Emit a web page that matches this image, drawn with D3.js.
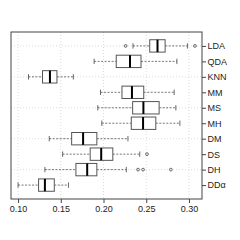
<!DOCTYPE html>
<html>
<head>
<meta charset="utf-8">
<script src="https://cdn.jsdelivr.net/npm/d3@7"></script>
<style>
  body { margin: 0; background: #fff; }
  text { font-family: "Liberation Sans", Arial, sans-serif; fill: #222; }
</style>
</head>
<body>
<div id="chart"></div>
<script>
// methods, bottom to top
var methods = ["DDα", "DH", "DS", "DM", "MH", "MS", "MM", "KNN", "QDA", "LDA"];
var whiskerLow  = [0.1000, 0.1314, 0.1522, 0.1365, 0.1980, 0.1933, 0.1965, 0.1122, 0.1890, 0.2345];
var q1          = [0.1240, 0.1677, 0.1844, 0.1627, 0.2325, 0.2341, 0.2216, 0.1286, 0.2149, 0.2541];
var medians     = [0.1314, 0.1809, 0.1973, 0.1761, 0.2463, 0.2467, 0.2333, 0.1373, 0.2310, 0.2632];
var q3          = [0.1424, 0.1922, 0.2109, 0.1922, 0.2612, 0.2651, 0.2471, 0.1455, 0.2439, 0.2721];
var whiskerHigh = [0.1590, 0.2267, 0.2424, 0.2286, 0.2894, 0.2847, 0.2827, 0.1647, 0.2859, 0.2982];
var outliers    = [[], [0.2404, 0.2463, 0.2788], [0.2509], [], [], [], [], [], [], [0.2259, 0.3070]];
var xTicks = [0.10, 0.15, 0.20, 0.25, 0.30];
var yGridRows = [2, 4, 6, 8, 10];

var width = 240, height = 240;
var plotL = 11, plotR = 202, plotT = 32, plotB = 199;

var svg = d3.select("#chart").append("svg")
    .attr("width", width)
    .attr("height", height);

var lo = d3.min(whiskerLow), hi = d3.max(outliers.flat().concat(whiskerHigh));
var pad = (hi - lo) * 0.04;
var x = d3.scaleLinear().domain([lo - pad, hi + pad]).range([plotL, plotR]);
var y = d3.scaleLinear().domain([0.1, methods.length + 0.9]).range([plotB, plotT]);
var rowH = Math.abs(y(1) - y(0));
var boxH = rowH * 0.8;
var stapleH = rowH * 0.35;

// grid
var grid = svg.append("g")
    .attr("stroke", "#d3d3d3")
    .attr("stroke-width", 0.8)
    .attr("stroke-dasharray", "1,2");
grid.selectAll(".gx").data(xTicks).join("line")
    .attr("x1", d => x(d)).attr("x2", d => x(d))
    .attr("y1", plotT).attr("y2", plotB);
grid.selectAll(".gy").data(yGridRows).join("line")
    .attr("x1", plotL).attr("x2", plotR)
    .attr("y1", d => y(d)).attr("y2", d => y(d));

var rows = methods.map((m, i) => ({
    name: m, pos: i + 1, lo: whiskerLow[i], q1: q1[i], med: medians[i],
    q3: q3[i], hi: whiskerHigh[i], out: outliers[i]
}));

var g = svg.append("g").selectAll("g").data(rows).join("g");

// whiskers
g.append("line")
    .attr("x1", d => x(d.lo)).attr("x2", d => x(d.q1))
    .attr("y1", d => y(d.pos)).attr("y2", d => y(d.pos))
    .attr("stroke", "#555").attr("stroke-dasharray", "2,1.5").attr("stroke-width", 0.8);
g.append("line")
    .attr("x1", d => x(d.q3)).attr("x2", d => x(d.hi))
    .attr("y1", d => y(d.pos)).attr("y2", d => y(d.pos))
    .attr("stroke", "#555").attr("stroke-dasharray", "2,1.5").attr("stroke-width", 0.8);
// staples
g.selectAll(".staple").data(d => [d.lo, d.hi].map(v => ({v: v, pos: d.pos}))).join("line")
    .attr("x1", d => x(d.v)).attr("x2", d => x(d.v))
    .attr("y1", d => y(d.pos) - stapleH / 2).attr("y2", d => y(d.pos) + stapleH / 2)
    .attr("stroke", "#444").attr("stroke-width", 0.8);
// boxes
g.append("rect")
    .attr("x", d => x(d.q1))
    .attr("width", d => x(d.q3) - x(d.q1))
    .attr("y", d => y(d.pos) - boxH / 2)
    .attr("height", boxH)
    .attr("fill", "#fff").attr("stroke", "#555").attr("stroke-width", 1);
// medians
g.append("line")
    .attr("x1", d => x(d.med)).attr("x2", d => x(d.med))
    .attr("y1", d => y(d.pos) - boxH / 2).attr("y2", d => y(d.pos) + boxH / 2)
    .attr("stroke", "#000").attr("stroke-width", 2);
// outliers
g.selectAll("circle").data(d => d.out.map(v => ({v: v, pos: d.pos}))).join("circle")
    .attr("cx", d => x(d.v)).attr("cy", d => y(d.pos))
    .attr("r", 1.4)
    .attr("fill", "none").attr("stroke", "#444").attr("stroke-width", 0.8);

// frame
svg.append("rect")
    .attr("x", plotL).attr("y", plotT)
    .attr("width", plotR - plotL).attr("height", plotB - plotT)
    .attr("fill", "none").attr("stroke", "#444").attr("stroke-width", 1);

// bottom axis
var xAxis = svg.append("g")
    .attr("transform", "translate(0," + plotB + ")")
    .call(d3.axisBottom(x).tickValues(xTicks).tickFormat(d3.format(".2f")).tickSize(4).tickPadding(3));
xAxis.select(".domain").remove();
xAxis.selectAll("line").attr("stroke", "#444");
xAxis.selectAll("text").attr("font-size", 9).style("fill", "#222");

// right axis
var yAxis = svg.append("g")
    .attr("transform", "translate(" + plotR + ",0)")
    .call(d3.axisRight(y).tickValues(d3.range(1, methods.length + 1))
        .tickFormat(d => methods[d - 1]).tickSize(4).tickPadding(1.5));
yAxis.select(".domain").remove();
yAxis.selectAll("line").attr("stroke", "#444");
yAxis.selectAll("text").attr("font-size", 9).style("fill", "#222");
</script>
</body>
</html>
